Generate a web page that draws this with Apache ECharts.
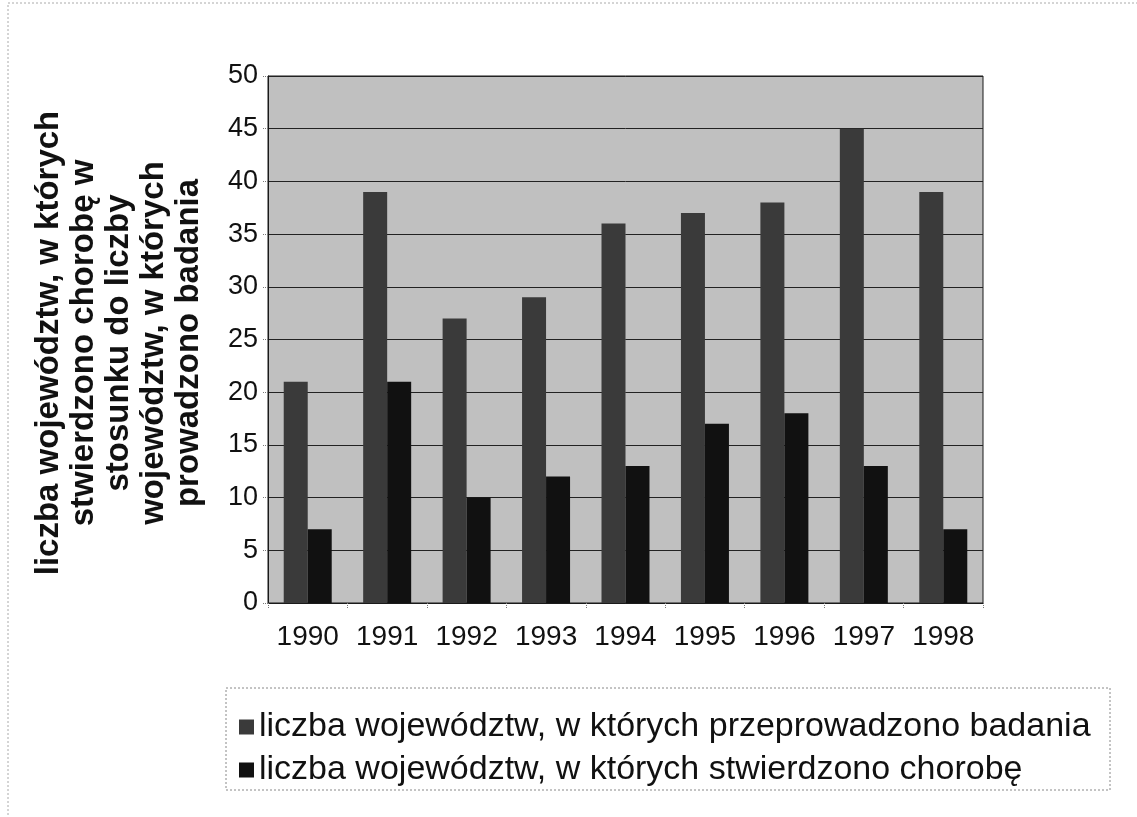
<!DOCTYPE html>
<html>
<head>
<meta charset="utf-8">
<script src="https://cdn.jsdelivr.net/npm/echarts@6/dist/echarts.min.js"></script>
<style>
  html, body { margin: 0; padding: 0; background: #fff; }
  #chart { width: 1137px; height: 817px; }
</style>
</head>
<body>
<div id="chart"></div>
<script>
// dane
var years = ["1990", "1991", "1992", "1993", "1994", "1995", "1996", "1997", "1998"];
var badane = [21, 39, 27, 29, 36, 37, 38, 45, 39];
var chore = [7, 21, 10, 12, 13, 17, 18, 13, 7];
var seriesNames = [
  "liczba województw, w których przeprowadzono badania",
  "liczba województw, w których stwierdzono chorobę"
];
var yTitle = "liczba województw, w których\nstwierdzono chorobę w\nstosunku do liczby\nwojewództw, w których\nprowadzono badania";

var chart = echarts.init(document.getElementById("chart"));
var font = "Arial, 'Liberation Sans', sans-serif";

var option = {
  animation: false,
  backgroundColor: "#fff",
  textStyle: { fontFamily: font },
  grid: {
    left: 268,
    top: 76,
    right: 154,
    bottom: 214,
    show: true,
    backgroundColor: "#c0c0c0",
    borderColor: "#1a1a1a",
    borderWidth: 1
  },
  legend: {
    orient: "vertical",
    left: 234,
    top: 705,
    itemWidth: 15,
    itemHeight: 15,
    itemGap: 9,
    icon: "rect",
    textStyle: { fontSize: 34, color: "#111", fontFamily: font },
    data: seriesNames
  },
  xAxis: {
    type: "category",
    data: years,
    axisLine: { lineStyle: { color: "#1a1a1a", width: 1 } },
    axisTick: { show: true, length: 6, lineStyle: { color: "#777", type: "dotted" } },
    axisLabel: { interval: 0, fontSize: 28, color: "#111", margin: 20 }
  },
  yAxis: {
    type: "value",
    min: 0,
    max: 50,
    interval: 5,
    axisLine: { show: true, lineStyle: { color: "#1a1a1a" } },
    axisTick: { show: true, length: 6, lineStyle: { color: "#777", type: "dotted" } },
    axisLabel: { fontSize: 27, color: "#111", margin: 10 },
    splitLine: { show: true, lineStyle: { color: "#222", width: 1 } }
  },
  graphic: [
    {
      type: "rect",
      shape: { x: 8, y: 3, width: 1140, height: 830 },
      style: { fill: "none", stroke: "#aaa", lineWidth: 1, lineDash: [2, 2] },
      silent: true
    },
    {
      type: "rect",
      shape: { x: 226, y: 688, width: 884, height: 102 },
      style: { fill: "none", stroke: "#888", lineWidth: 1, lineDash: [2, 2] },
      silent: true
    },
    {
      type: "text",
      x: 119,
      y: 343,
      rotation: Math.PI / 2,
      style: {
        text: yTitle,
        font: "bold 33px " + font,
        fill: "#111",
        align: "center",
        verticalAlign: "middle",
        lineHeight: 35
      }
    }
  ],
  series: [
    {
      name: seriesNames[0],
      type: "bar",
      data: badane,
      barWidth: 24,
      barGap: "0%",
      itemStyle: { color: "#3a3a3a" }
    },
    {
      name: seriesNames[1],
      type: "bar",
      data: chore,
      barWidth: 24,
      itemStyle: { color: "#111" }
    }
  ]
};

chart.setOption(option);
</script>
</body>
</html>
